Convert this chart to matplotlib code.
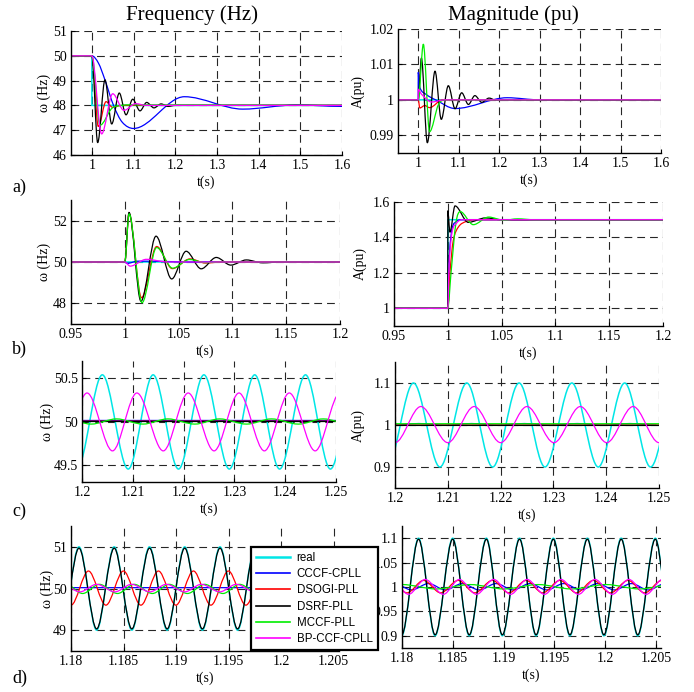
import numpy as np
import matplotlib
matplotlib.use("Agg")
import matplotlib.pyplot as plt
from matplotlib.path import Path
from matplotlib.patches import PathPatch
from matplotlib.lines import Line2D
from matplotlib.ticker import FuncFormatter

W, H = 694, 692

METHODS = ["real", "CCCF-CPLL", "DSOGI-PLL", "DSRF-PLL", "MCCF-PLL", "BP-CCF-CPLL"]
COLORS = ["#00E6E6", "#0000FF", "#FF0000", "#000000", "#00EE00", "#FF00FF"]
WIDTHS = [1.1, 0.9, 0.9, 0.9, 0.9, 0.9]

# ---- a) frequency step 50 -> 48 Hz (values read at extrema / knees)
a_freq_t_real = [0.95, 1.0, 1.0, 1.6]
a_freq_real = [50, 50, 48, 48]
a_freq_t_cccf = [0.95, 1.0, 1.016, 1.031, 1.052, 1.073, 1.1, 1.222, 1.362, 1.49, 1.6]
a_freq_cccf = [50, 50, 49.7, 49.05, 48.0, 47.32, 47.07, 48.35, 47.85, 48.02, 47.96]
a_freq_t_dsogi = [0.95, 1.0, 1.0155, 1.034, 1.05, 1.07, 1.6]
a_freq_dsogi = [50, 50, 47.15, 48.15, 47.92, 48.0, 48.0]
a_freq_t_dsrf = [0.95, 1.0, 1.014, 1.0315, 1.0476, 1.0658, 1.082, 1.098, 1.1155,
                 1.1315, 1.149, 1.166, 1.183, 1.2, 1.6]
a_freq_dsrf = [50, 50, 46.5, 49.03, 47.25, 48.5, 47.62, 48.25, 47.78,
               48.12, 47.9, 48.06, 47.96, 48.0, 48.0]
a_freq_t_mccf = [0.95, 1.0, 1.0195, 1.048, 1.072, 1.09, 1.6]
a_freq_mccf = [50, 50, 47.2, 47.88, 48.0, 48.02, 48.0]
a_freq_t_bpccf = [0.95, 1.0, 1.0235, 1.05, 1.077, 1.105, 1.13, 1.6]
a_freq_bpccf = [50, 50, 46.85, 48.47, 47.8, 48.07, 48.0, 48.0]

a_mag_t_real = [0.95, 1.6]
a_mag_real = [1.0, 1.0]
a_mag_t_cccf = [0.95, 1.0, 1.0, 1.004, 1.02, 1.043, 1.091, 1.22, 1.3, 1.6]
a_mag_cccf = [1.0, 1.0, 1.0077, 1.0035, 1.0015, 1.0, 0.99755, 1.0006, 1.0, 1.0]
a_mag_t_dsogi = [0.95, 1.0, 1.004, 1.016, 1.028, 1.06, 1.6]
a_mag_dsogi = [1.0, 1.0, 0.9977, 0.9984, 0.9978, 1.0, 1.0]
a_mag_t_dsrf = [0.95, 1.0, 1.0078, 1.0225, 1.0415, 1.057, 1.0744, 1.091, 1.1074,
                1.124, 1.140, 1.157, 1.175, 1.19, 1.6]
a_mag_dsrf = [1.0, 1.0, 1.0118, 0.9879, 1.0081, 0.9945, 1.004, 0.9975, 1.002,
              0.9987, 1.0012, 0.9993, 1.0005, 1.0, 1.0]
a_mag_t_mccf = [0.95, 1.0, 1.0126, 1.028, 1.05, 1.068, 1.6]
a_mag_mccf = [1.0, 1.0, 1.0157, 0.991, 0.9987, 1.0, 1.0]
a_mag_t_bpccf = [0.95, 1.0, 1.0, 1.008, 1.033, 1.066, 1.6]
a_mag_bpccf = [1.0, 1.0, 1.003, 1.0016, 0.9994, 1.0, 1.0]

# ---- b) amplitude step 1 -> 1.5 pu
b_freq_t_real = [0.95, 1.2]
b_freq_real = [50, 50]
b_freq_t_cccf = [0.95, 1.0, 1.002, 1.012, 1.035, 1.06, 1.2]
b_freq_cccf = [50, 50, 49.93, 50.04, 50.03, 50.0, 50.0]
b_freq_t_dsogi = [0.95, 1.0, 1.0039, 1.0155, 1.0296, 1.0442, 1.0606, 1.075, 1.09, 1.2]
b_freq_dsogi = [50, 50, 52.35, 48.27, 50.75, 49.68, 50.15, 49.95, 50.0, 50.0]
b_freq_t_dsrf = [0.95, 1.0, 1.0039, 1.015, 1.029, 1.0436, 1.057, 1.071, 1.085,
                 1.0985, 1.113, 1.128, 1.145, 1.2]
b_freq_dsrf = [50, 50, 52.4, 48.1, 51.25, 49.18, 50.52, 49.67, 50.22,
               49.85, 50.1, 49.96, 50.0, 50.0]
b_freq_t_mccf = [0.95, 1.0, 1.004, 1.016, 1.0296, 1.0445, 1.06, 1.075, 1.09, 1.2]
b_freq_mccf = [50, 50, 52.33, 48.03, 50.7, 49.7, 50.12, 49.97, 50.0, 50.0]
b_freq_t_bpccf = [0.95, 1.0, 1.005, 1.02, 1.04, 1.2]
b_freq_bpccf = [50, 50, 49.8, 50.13, 50.0, 50.0]

b_mag_t_real = [0.95, 1.0, 1.0, 1.2]
b_mag_real = [1.0, 1.0, 1.5, 1.5]
b_mag_t_cccf = [0.95, 1.0, 1.0015, 1.004, 1.008, 1.012, 1.2]
b_mag_cccf = [1.0, 1.0, 1.3, 1.45, 1.49, 1.5, 1.5]
b_mag_t_dsogi = [0.95, 1.0, 1.002, 1.005, 1.01, 1.017, 1.025, 1.2]
b_mag_dsogi = [1.0, 1.0, 1.2, 1.38, 1.46, 1.49, 1.5, 1.5]
b_mag_t_dsrf = [0.95, 1.0, 1.0, 1.002, 1.0067, 1.019, 1.035, 1.05, 1.2]
b_mag_dsrf = [1.0, 1.0, 1.55, 1.43, 1.578, 1.485, 1.51, 1.5, 1.5]
b_mag_t_mccf = [0.95, 1.0, 1.003, 1.0075, 1.0115, 1.0237, 1.038, 1.052, 1.065, 1.08, 1.2]
b_mag_mccf = [1.0, 1.0, 1.2, 1.48, 1.546, 1.472, 1.515, 1.497, 1.505, 1.5, 1.5]
b_mag_t_bpccf = [0.95, 1.0, 1.0012, 1.004, 1.008, 1.013, 1.2]
b_mag_bpccf = [1.0, 1.0, 1.25, 1.43, 1.48, 1.5, 1.5]

# ---- c) harmonics (peaks / troughs)
c_freq_t_real = [1.199, 1.204, 1.2091, 1.214, 1.219, 1.224, 1.229, 1.234, 1.2389,
                 1.244, 1.2489, 1.254]
c_freq_real = [49.45, 50.54, 49.45, 50.54, 49.45, 50.54, 49.45, 50.54, 49.45,
               50.54, 49.45, 50.54]
c_freq_t_cccf = [1.2, 1.25]
c_freq_cccf = [50.012, 50.012]
c_freq_t_dsogi = [1.2, 1.25]
c_freq_dsogi = [50.004, 50.004]
c_freq_t_dsrf = [1.2, 1.25]
c_freq_dsrf = [50.0, 50.0]
c_freq_t_mccf = [1.1968, 1.2018, 1.2068, 1.212, 1.2169, 1.2222, 1.2271, 1.2324,
                 1.2373, 1.2426, 1.2475, 1.2527]
c_freq_mccf = [50.03, 49.97, 50.03, 49.97, 50.03, 49.97, 50.03, 49.97,
               50.03, 49.97, 50.03, 49.97]
c_freq_t_bpccf = [1.196, 1.201, 1.206, 1.2108, 1.216, 1.2209, 1.226, 1.2309,
                  1.2359, 1.2408, 1.2459, 1.2508]
c_freq_bpccf = [49.66, 50.33, 49.66, 50.33, 49.66, 50.33, 49.66, 50.33,
                49.66, 50.33, 49.66, 50.33]

c_mag_t_real = [1.1985, 1.2035, 1.2085, 1.2136, 1.2185, 1.2235, 1.2284, 1.2335,
                1.2385, 1.2435, 1.2484, 1.2535]
c_mag_real = [0.9, 1.1, 0.9, 1.1, 0.9, 1.1, 0.9, 1.1, 0.9, 1.1, 0.9, 1.1]
c_mag_t_cccf = [1.1995, 1.2045, 1.2095, 1.2145, 1.2195, 1.2245, 1.2295, 1.2345,
                1.2395, 1.2445, 1.2495]
c_mag_cccf = [0.9995, 1.0035, 0.9995, 1.0035, 0.9995, 1.0035, 0.9995, 1.0035,
              0.9995, 1.0035, 0.9995]
c_mag_t_dsogi = [1.2, 1.25]
c_mag_dsogi = [1.0, 1.0]
c_mag_t_dsrf = [1.2, 1.25]
c_mag_dsrf = [0.999, 0.999]
c_mag_t_mccf = [1.2, 1.25]
c_mag_mccf = [1.003, 1.003]
c_mag_t_bpccf = [1.2, 1.2049, 1.21, 1.215, 1.22, 1.225, 1.2301, 1.2351, 1.2401,
                 1.2451, 1.25]
c_mag_bpccf = [0.958, 1.044, 0.958, 1.044, 0.958, 1.044, 0.958, 1.044, 0.958,
               1.044, 0.958]

# ---- d) unbalance (peaks / troughs)
d_freq_t_real = [1.17908, 1.18076, 1.18244, 1.18411, 1.18579, 1.18747, 1.18915,
                 1.19082, 1.1925, 1.19418, 1.19585, 1.19753, 1.19921, 1.20089,
                 1.20256, 1.20424, 1.20592]
d_freq_real = [49.0, 51.0, 49.0, 51.0, 49.0, 51.0, 49.0, 51.0, 49.0, 51.0, 49.0,
               51.0, 49.0, 51.0, 49.0, 51.0, 49.0]
d_freq_t_cccf = [1.18, 1.2055]
d_freq_cccf = [50.02, 50.02]
d_freq_t_dsogi = [1.18, 1.18166, 1.18332, 1.18499, 1.18665, 1.18832, 1.18998,
                  1.19165, 1.19331, 1.19498, 1.19664, 1.19831, 1.19997, 1.20164,
                  1.2033, 1.20497, 1.20663]
d_freq_dsogi = [49.6, 50.42, 49.6, 50.42, 49.6, 50.42, 49.6, 50.42, 49.6, 50.42,
                49.6, 50.42, 49.6, 50.42, 49.6, 50.42, 49.6]
d_freq_t_dsrf = d_freq_t_real
d_freq_dsrf = [49.03, 50.97, 49.03, 50.97, 49.03, 50.97, 49.03, 50.97, 49.03,
               50.97, 49.03, 50.97, 49.03, 50.97, 49.03, 50.97, 49.03]
d_freq_t_mccf = [1.17953, 1.18111, 1.18269, 1.18443, 1.18601, 1.18775, 1.18934,
                 1.19108, 1.19272, 1.19446, 1.19604, 1.19778, 1.19937, 1.2011,
                 1.2027, 1.20443, 1.20603]
d_freq_mccf = [50.1, 49.88, 50.1, 49.88, 50.1, 49.88, 50.1, 49.88, 50.1, 49.88,
               50.1, 49.88, 50.1, 49.88, 50.1, 49.88, 50.1]
d_freq_t_bpccf = [1.17917, 1.18085, 1.18244, 1.18418, 1.18576, 1.1875, 1.18908,
                  1.19082, 1.1924, 1.19415, 1.19573, 1.19747, 1.19905, 1.20079,
                  1.20237, 1.20412, 1.2057]
d_freq_bpccf = [50.1, 49.92, 50.1, 49.92, 50.1, 49.92, 50.1, 49.92, 50.1, 49.92,
                50.1, 49.92, 50.1, 49.92, 50.1, 49.92, 50.1]

d_mag_t_real = [1.17997, 1.18163, 1.18326, 1.18499, 1.18662, 1.18831, 1.18988,
                1.19157, 1.1932, 1.1949, 1.19653, 1.19825, 1.19988, 1.20158,
                1.20321, 1.20494, 1.20655]
d_mag_real = [0.9, 1.1, 0.9, 1.1, 0.9, 1.1, 0.9, 1.1, 0.9, 1.1, 0.9, 1.1, 0.9,
              1.1, 0.9, 1.1, 0.9]
d_mag_t_cccf = [1.17928, 1.18094, 1.18261, 1.18427, 1.18594, 1.1876, 1.18927,
                1.19093, 1.1926, 1.19426, 1.19593, 1.19759, 1.19926, 1.20092,
                1.20259, 1.20425, 1.20592]
d_mag_cccf = [1.007, 0.994, 1.007, 0.994, 1.007, 0.994, 1.007, 0.994, 1.007,
              0.994, 1.007, 0.994, 1.007, 0.994, 1.007, 0.994, 1.007]
d_mag_t_dsogi = [1.1788, 1.18049, 1.18212, 1.18381, 1.18554, 1.18717, 1.1889,
                 1.19053, 1.19222, 1.19385, 1.19555, 1.19718, 1.19884, 1.20053,
                 1.20226, 1.20389, 1.20559]
d_mag_dsogi = [1.0135, 0.988, 1.0135, 0.988, 1.0135, 0.988, 1.0135, 0.988, 1.0135,
               0.988, 1.0135, 0.988, 1.0135, 0.988, 1.0135, 0.988, 1.0135]
d_mag_t_dsrf = d_mag_t_real
d_mag_dsrf = [0.902, 1.098, 0.902, 1.098, 0.902, 1.098, 0.902, 1.098, 0.902,
              1.098, 0.902, 1.098, 0.902, 1.098, 0.902, 1.098, 0.902]
d_mag_t_mccf = [1.18, 1.1834, 1.1867, 1.19005, 1.1934, 1.1967, 1.2001, 1.2034, 1.2067]
d_mag_mccf = [1.005, 0.996, 1.005, 0.996, 1.005, 0.996, 1.005, 0.996, 1.005]
d_mag_t_bpccf = [1.17898, 1.18065, 1.18228, 1.18407, 1.18564, 1.18733, 1.18903,
                 1.19069, 1.19232, 1.19402, 1.19565, 1.19737, 1.199, 1.2007,
                 1.20233, 1.20405, 1.20565]
d_mag_bpccf = [1.0155, 0.985, 1.0155, 0.985, 1.0155, 0.985, 1.0155, 0.985, 1.0155,
               0.985, 1.0155, 0.985, 1.0155, 0.985, 1.0155, 0.985, 1.0155]


def smooth_curve(ax, xs, ys, color, lw):
    """Draw a smooth curve through the read points (cubic Bezier segments)."""
    xs = np.asarray(xs, float)
    ys = np.asarray(ys, float)
    n = len(xs)
    m = np.zeros(n)
    for i in range(1, n - 1):
        h0, h1 = xs[i] - xs[i - 1], xs[i + 1] - xs[i]
        if h0 <= 0 or h1 <= 0:
            continue
        s0, s1 = (ys[i] - ys[i - 1]) / h0, (ys[i + 1] - ys[i]) / h1
        if s0 * s1 > 0:
            mi = (ys[i + 1] - ys[i - 1]) / (h0 + h1)
            m[i] = np.sign(mi) * min(abs(mi), 3 * min(abs(s0), abs(s1)))
    verts = [(xs[0], ys[0])]
    codes = [Path.MOVETO]
    for i in range(n - 1):
        dx = xs[i + 1] - xs[i]
        if dx <= 0:
            verts.append((xs[i + 1], ys[i + 1]))
            codes.append(Path.LINETO)
            continue
        h = dx / 3
        verts += [(xs[i] + h, ys[i] + m[i] * h), (xs[i + 1] - h, ys[i + 1] - m[i + 1] * h),
                  (xs[i + 1], ys[i + 1])]
        codes += [Path.CURVE4] * 3
    ax.add_patch(PathPatch(Path(verts, codes), fill=False, edgecolor=color, lw=lw,
                           capstyle="butt", joinstyle="round"))


def add_axes_px(fig, x0, x1, y0, y1):
    return fig.add_axes([x0 / W, 1 - y1 / H, (x1 - x0) / W, (y1 - y0) / H])


def style_panel(ax, box, xlim, ylim, xticks, yticks, ylabel, ylab_px):
    x0, x1, y0, y1 = box
    ax.set_xlim(*xlim)
    ax.set_ylim(*ylim)
    ax.set_xticks(xticks)
    ax.set_yticks(yticks)
    fmt = FuncFormatter(lambda v, p: f"{v:g}")
    ax.xaxis.set_major_formatter(fmt)
    ax.yaxis.set_major_formatter(fmt)
    ax.grid(True, color="0.15", linestyle=(0, (7, 4.5)), linewidth=0.8)
    ax.set_axisbelow(True)
    for s in ("top", "right"):
        ax.spines[s].set_visible(False)
    for s in ("left", "bottom"):
        ax.spines[s].set_linewidth(1.0)
    ax.tick_params(direction="in", length=3, width=0.8, labelsize=10, pad=3)
    ax.set_xlabel("t(s)", fontsize=10)
    ax.xaxis.label.set_va("center")
    ax.xaxis.set_label_coords(0.5, -27 / (y1 - y0))
    ax.set_ylabel(ylabel, fontsize=10)
    ax.yaxis.label.set_va("center")
    ax.yaxis.set_label_coords((ylab_px - x0) / (x1 - x0), 0.5)


plt.rcParams["font.family"] = ["Liberation Serif", "DejaVu Serif"]
fig = plt.figure(figsize=(W / 100, H / 100), dpi=100)

panels = [
    # box px, xlim, ylim, xticks, yticks, ylabel, ylabel x px, series
    ((71, 342, 31, 155), (0.95, 1.6), (46, 51), [1, 1.1, 1.2, 1.3, 1.4, 1.5, 1.6],
     [46, 47, 48, 49, 50, 51], "ω (Hz)", 44,
     [(a_freq_t_real, a_freq_real), (a_freq_t_cccf, a_freq_cccf),
      (a_freq_t_dsogi, a_freq_dsogi), (a_freq_t_dsrf, a_freq_dsrf),
      (a_freq_t_mccf, a_freq_mccf), (a_freq_t_bpccf, a_freq_bpccf)]),
    ((398, 661, 29, 153), (0.95, 1.6), (0.985, 1.02), [1, 1.1, 1.2, 1.3, 1.4, 1.5, 1.6],
     [0.99, 1.0, 1.01, 1.02], "A(pu)", 358,
     [(a_mag_t_real, a_mag_real), (a_mag_t_cccf, a_mag_cccf),
      (a_mag_t_dsogi, a_mag_dsogi), (a_mag_t_dsrf, a_mag_dsrf),
      (a_mag_t_mccf, a_mag_mccf), (a_mag_t_bpccf, a_mag_bpccf)]),
    ((71, 340, 200, 324), (0.95, 1.2), (47, 53), [0.95, 1, 1.05, 1.1, 1.15, 1.2],
     [48, 50, 52], "ω (Hz)", 44,
     [(b_freq_t_real, b_freq_real), (b_freq_t_cccf, b_freq_cccf),
      (b_freq_t_dsogi, b_freq_dsogi), (b_freq_t_dsrf, b_freq_dsrf),
      (b_freq_t_mccf, b_freq_mccf), (b_freq_t_bpccf, b_freq_bpccf)]),
    ((394, 663, 202, 326), (0.95, 1.2), (0.9, 1.6), [0.95, 1, 1.05, 1.1, 1.15, 1.2],
     [1.0, 1.2, 1.4, 1.6], "A(pu)", 360,
     [(b_mag_t_real, b_mag_real), (b_mag_t_cccf, b_mag_cccf),
      (b_mag_t_dsogi, b_mag_dsogi), (b_mag_t_dsrf, b_mag_dsrf),
      (b_mag_t_mccf, b_mag_mccf), (b_mag_t_bpccf, b_mag_bpccf)]),
    ((82, 336, 361, 482), (1.2, 1.25), (49.3, 50.7), [1.2, 1.21, 1.22, 1.23, 1.24, 1.25],
     [49.5, 50, 50.5], "ω (Hz)", 47,
     [(c_freq_t_real, c_freq_real), (c_freq_t_cccf, c_freq_cccf),
      (c_freq_t_dsogi, c_freq_dsogi), (c_freq_t_dsrf, c_freq_dsrf),
      (c_freq_t_mccf, c_freq_mccf), (c_freq_t_bpccf, c_freq_bpccf)]),
    ((395, 659, 362, 488), (1.2, 1.25), (0.85, 1.15), [1.2, 1.21, 1.22, 1.23, 1.24, 1.25],
     [0.9, 1.0, 1.1], "A(pu)", 358,
     [(c_mag_t_real, c_mag_real), (c_mag_t_cccf, c_mag_cccf),
      (c_mag_t_dsogi, c_mag_dsogi), (c_mag_t_dsrf, c_mag_dsrf),
      (c_mag_t_mccf, c_mag_mccf), (c_mag_t_bpccf, c_mag_bpccf)]),
    ((71, 339, 526, 651), (1.18, 1.2055), (48.5, 51.5),
     [1.18, 1.185, 1.19, 1.195, 1.2, 1.205], [49, 50, 51], "ω (Hz)", 47,
     [(d_freq_t_real, d_freq_real), (d_freq_t_cccf, d_freq_cccf),
      (d_freq_t_dsogi, d_freq_dsogi), (d_freq_t_dsrf, d_freq_dsrf),
      (d_freq_t_mccf, d_freq_mccf), (d_freq_t_bpccf, d_freq_bpccf)]),
    ((402, 661, 526, 648), (1.18, 1.2055), (0.875, 1.125),
     [1.18, 1.185, 1.19, 1.195, 1.2, 1.205], [0.9, 0.95, 1.0, 1.05, 1.1], "A(pu)", 368,
     [(d_mag_t_real, d_mag_real), (d_mag_t_cccf, d_mag_cccf),
      (d_mag_t_dsogi, d_mag_dsogi), (d_mag_t_dsrf, d_mag_dsrf),
      (d_mag_t_mccf, d_mag_mccf), (d_mag_t_bpccf, d_mag_bpccf)]),
]

for box, xlim, ylim, xticks, yticks, ylabel, ylab_px, series in panels:
    ax = add_axes_px(fig, *box)
    style_panel(ax, box, xlim, ylim, xticks, yticks, ylabel, ylab_px)
    for (t, v), color, lw in zip(series, COLORS, WIDTHS):
        smooth_curve(ax, t, v, color, lw)

fig.text(192 / W, 1 - 20 / H, "Frequency (Hz)", fontsize=15, ha="center", va="baseline")
fig.text(513 / W, 1 - 20 / H, "Magnitude (pu)", fontsize=15, ha="center", va="baseline")
for label, base in zip(["a)", "b)", "c)", "d)"], [192, 354, 516, 683]):
    fig.text(12 / W, 1 - base / H, label, fontsize=13, ha="left", va="baseline")

handles = [Line2D([], [], color=c, lw=1.2 if i else 1.8) for i, c in enumerate(COLORS)]
leg = fig.legend(handles, METHODS, loc="upper left",
                 bbox_to_anchor=(251 / W, 1 - 547 / H), bbox_transform=fig.transFigure,
                 borderaxespad=0, fancybox=False, framealpha=1, edgecolor="black",
                 prop={"family": "Liberation Sans", "size": 8.3},
                 handlelength=2.9, handletextpad=0.6, labelspacing=0.36, borderpad=0.45)
leg.get_frame().set_linewidth(1.6)

fig.savefig("out.png", dpi=100)
